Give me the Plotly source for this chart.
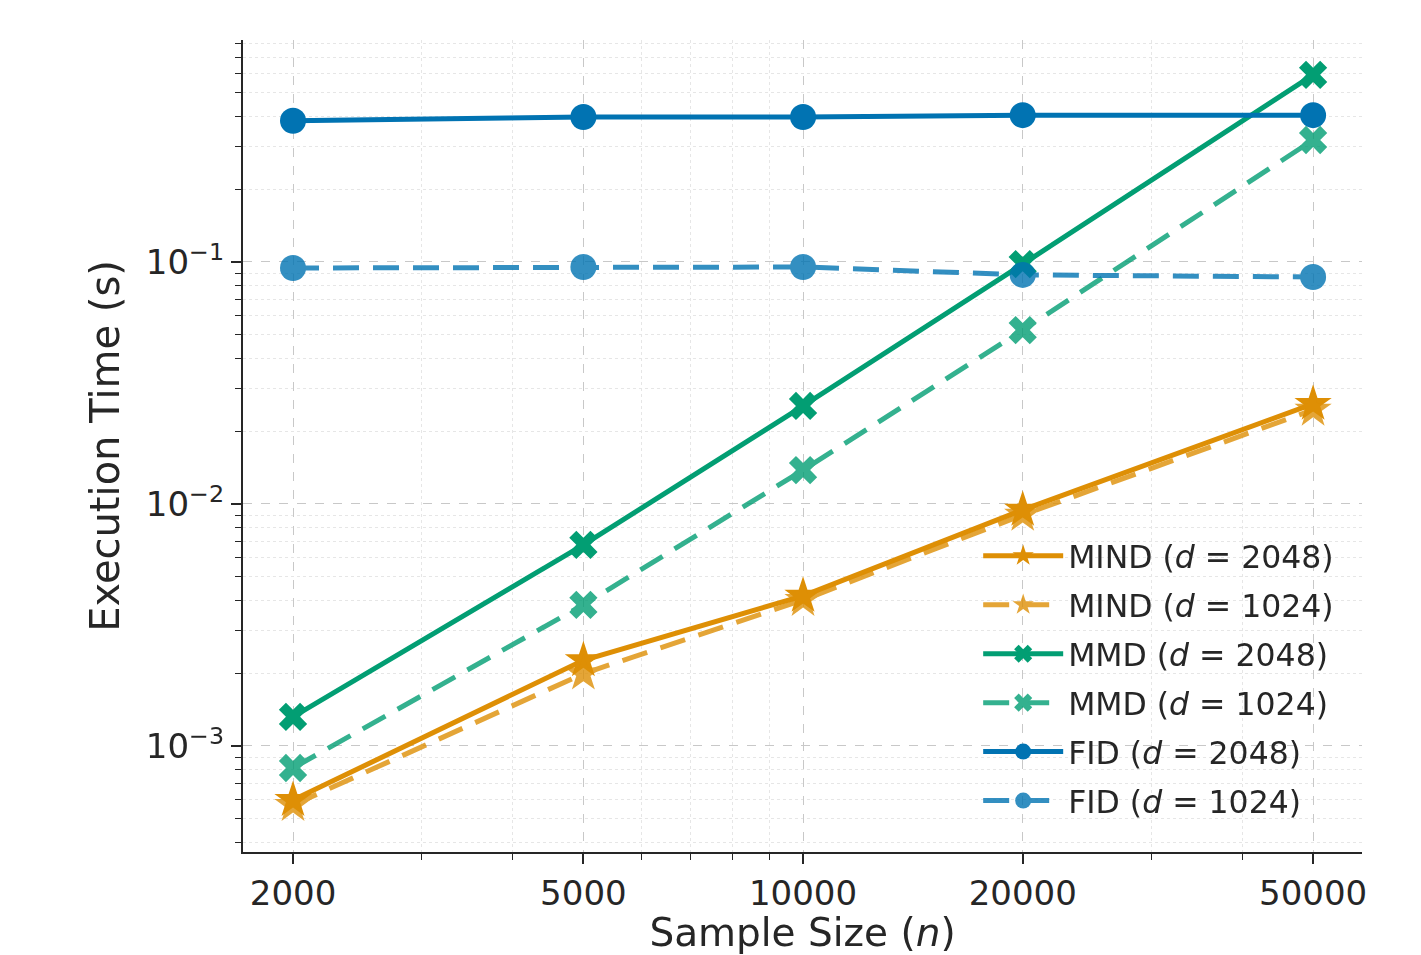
import plotly.graph_objects as go

sample_sizes = [2000, 5000, 10000, 20000, 50000]

mind_2048 = [0.000598, 0.00226, 0.00417, 0.00945, 0.0259]
mind_1024 = [0.000570, 0.00199, 0.00401, 0.00901, 0.0245]
mmd_2048 = [0.00132, 0.00678, 0.0254, 0.098, 0.593]
mmd_1024 = [0.000811, 0.00383, 0.0138, 0.0523, 0.319]
fid_2048 = [0.383, 0.397, 0.397, 0.404, 0.404]
fid_1024 = [0.0944, 0.0953, 0.0953, 0.0884, 0.0867]

series_names = ["MIND (<i>d</i> = 2048)", "MIND (<i>d</i> = 1024)",
                "MMD (<i>d</i> = 2048)", "MMD (<i>d</i> = 1024)",
                "FID (<i>d</i> = 2048)", "FID (<i>d</i> = 1024)"]

ORANGE = "#DE8F05"
GREEN = "#029E73"
BLUE = "#0173B2"

styles = [
    (mind_2048, ORANGE, "solid", "star", 1.0, 28),
    (mind_1024, ORANGE, "26px,14px", "star", 0.8, 28),
    (mmd_2048, GREEN, "solid", "x", 1.0, 25),
    (mmd_1024, GREEN, "26px,14px", "x", 0.8, 25),
    (fid_2048, BLUE, "solid", "circle", 1.0, 26),
    (fid_1024, BLUE, "26px,14px", "circle", 0.8, 26),
]

fig = go.Figure()
for i, (name, (vals, col, dash, sym, op, size)) in enumerate(zip(series_names, styles)):
    fig.add_trace(go.Scatter(
        x=sample_sizes, y=vals, name=name, mode="lines+markers",
        legendgroup=f"g{i}",
        line=dict(color=col, width=5, dash=dash),
        marker=dict(symbol=sym, size=size, color=col, line=dict(width=0)),
        opacity=op,
    ))

FONT = "DejaVu Sans"
TXT = "#262626"

x_major = [2000, 5000, 10000, 20000, 50000]
x_minor = [3000, 4000, 6000, 7000, 8000, 9000, 30000, 40000]
y_major = [0.001, 0.01, 0.1]
y_minor = [m * 10.0 ** e for e in (-4, -3, -2, -1) for m in range(2, 10)]
y_minor = [v for v in y_minor if 0.00036 < v < 0.83]

fig.update_layout(
    width=1421, height=955,
    paper_bgcolor="white", plot_bgcolor="white",
    margin=dict(l=243, r=59, t=40, b=103, autoexpand=False),
    font=dict(family=FONT, color=TXT, size=32),
    showlegend=True,
    legend=dict(
        x=0.657, y=0.398, xanchor="left", yanchor="top",
        bgcolor="rgba(0,0,0,0)", borderwidth=0,
        font=dict(family=FONT, size=31.5, color=TXT),
        itemwidth=80, tracegroupgap=5,
    ),
    xaxis=dict(
        type="log", range=[3.2325, 4.766], automargin=False,
        tickmode="array", tickvals=x_major,
        ticktext=[str(v) for v in x_major],
        ticks="outside", ticklen=10, tickwidth=1.5, tickcolor="#262626",
        tickfont=dict(size=34, family=FONT, color=TXT),
        showline=True, linecolor="#262626", linewidth=2,
        showgrid=True, gridcolor="#c8c8c8", gridwidth=1.3, griddash="dash",
        zeroline=False, mirror=False,
        minor=dict(tickmode="array", tickvals=x_minor, ticks="outside", ticklen=6,
                   tickwidth=1, tickcolor="#262626",
                   showgrid=True, gridcolor="#e6e6e6", gridwidth=1, griddash="dot"),
        title=dict(text="Sample Size (<i>n</i>)", font=dict(size=39, family=FONT, color=TXT),
                   standoff=13),
    ),
    yaxis=dict(
        type="log", range=[-3.438, -0.083], automargin=False,
        tickmode="array", tickvals=y_major,
        ticktext=["10<sup>−3</sup>", "10<sup>−2</sup>", "10<sup>−1</sup>"],
        ticks="outside", ticklen=10, tickwidth=1.5, tickcolor="#262626",
        tickfont=dict(size=34, family=FONT, color=TXT),
        showline=True, linecolor="#262626", linewidth=2,
        showgrid=True, gridcolor="#c8c8c8", gridwidth=1.3, griddash="dash",
        zeroline=False, mirror=False,
        minor=dict(tickmode="array", tickvals=y_minor, ticks="outside", ticklen=6,
                   tickwidth=1, tickcolor="#262626",
                   showgrid=True, gridcolor="#e6e6e6", gridwidth=1, griddash="dot"),
        title=dict(text="Execution Time (s)", font=dict(size=40, family=FONT, color=TXT),
                   standoff=14),
    ),
)

fig.write_html("out.html",
               config={"displayModeBar": False},
               post_script="document.body.style.margin='0';document.body.style.overflow='hidden';")
